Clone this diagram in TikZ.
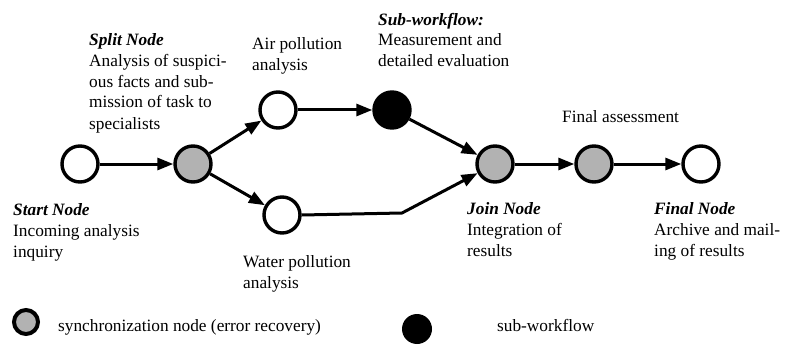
\documentclass[tikz,border=0pt]{standalone}
\usepackage{fontspec}
\setmainfont{Liberation Serif}
\usetikzlibrary{arrows.meta}
\begin{document}
\begin{tikzpicture}[x=1pt,y=-1pt,
  wfnode/.style={circle,draw=black,line width=3.4pt,minimum size=36pt,inner sep=0pt},
  plain/.style={wfnode,fill=white},
  sync/.style={wfnode,fill=gray!60},
  subwf/.style={wfnode,fill=black},
  flow/.style={line width=3pt,-{Triangle[length=16pt,width=12pt]}},
  % multi-line labels: the anchor sits on the baseline of the last line
  lbl/.style={anchor=base west,inner sep=0pt,align=left,
    font=\fontsize{17.3}{21}\selectfont}]
\useasboundingbox (0,0) rectangle (788,345);

% workflow nodes
\node[plain] (start)  at (80,164)  {};
\node[sync]  (split)  at (193,164) {};
\node[plain] (air)    at (278,110) {};
\node[plain] (water)  at (282,215) {};
\node[subwf] (sub)    at (392,110) {};
\node[sync]  (join)   at (495,164) {};
\node[sync]  (assess) at (594,164) {};
\node[plain] (final)  at (701,164) {};
\coordinate (bend) at (402,213);

% connectors
\draw[flow] (start) -- (split);
\draw[flow] (split) -- (air);
\draw[flow] (split) -- (water);
\draw[flow] (air) -- (sub);
\draw[flow] (sub) -- (join);
\draw[flow] (water.east) -- (bend) -- (join);
\draw[flow] (join) -- (assess);
\draw[flow] (assess) -- (final);

% labels
\node[lbl] (tsplit) at (89,129) {{\bfseries\itshape Split Node}\\Analysis of suspici-\\ous facts and sub-\\mission of task to\\specialists};
\node[lbl] (tair) at (252,71) {Air pollution\\analysis};
\node[lbl] (tsub) at (378,67) {{\bfseries\itshape Sub-workflow:}\\Measurement and\\detailed evaluation};
\node[lbl] (tassess) at (562,123) {Final assessment};
\node[lbl] (tstart) at (13,257) {{\bfseries\itshape Start Node}\\Incoming analysis\\inquiry};
\node[lbl] (twater) at (243,288) {Water pollution\\analysis};
\node[lbl] (tjoin) at (467,256) {{\bfseries\itshape Join Node}\\Integration of\\results};
\node[lbl] (tfinal) at (654,256) {{\bfseries\itshape Final Node}\\Archive and mail-\\ing of results};

% legend
\node[circle,draw=black,line width=4pt,fill=gray!60,minimum size=24pt,inner sep=0pt] (lsync) at (26,322) {};
\node[lbl] (tlsync) at (58,331) {synchronization node (error recovery)};
\node[circle,fill=black,minimum size=30pt,inner sep=0pt] (lsub) at (417,329) {};
\node[lbl] (tlsub) at (497,331) {sub-workflow};
\end{tikzpicture}
\end{document}
